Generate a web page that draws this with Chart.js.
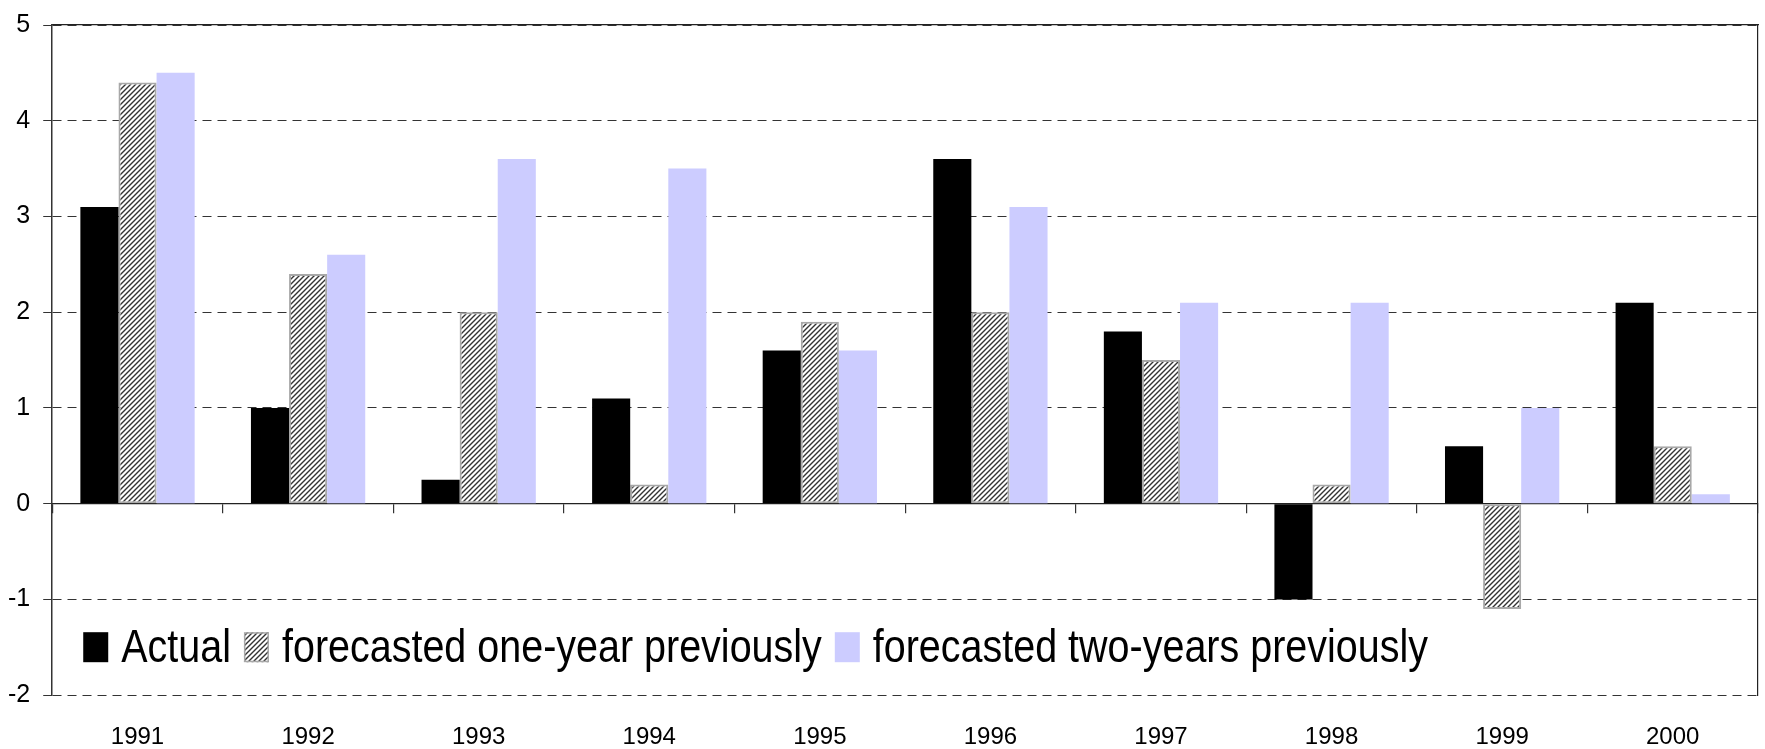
<!DOCTYPE html>
<html>
<head>
<meta charset="utf-8">
<script src="https://cdn.jsdelivr.net/npm/chart.js@4.4.1/dist/chart.umd.min.js"></script>
<style>
html,body{margin:0;padding:0;background:#ffffff;}
#wrap{width:1765px;height:749px;position:relative;}
</style>
</head>
<body>
<div id="wrap"><canvas id="c"></canvas></div>
<script>
// ---- data ----
const categories = ['1991','1992','1993','1994','1995','1996','1997','1998','1999','2000'];
const actual = [3.1, 1.0, 0.25, 1.1, 1.6, 3.6, 1.8, -1.0, 0.6, 2.1];
const forecastOneYear = [4.4, 2.4, 2.0, 0.2, 1.9, 2.0, 1.5, 0.2, -1.1, 0.6];
const forecastTwoYears = [4.5, 2.6, 3.6, 3.5, 1.6, 3.1, 2.1, 2.1, 1.0, 0.1];
const seriesNames = ['Actual', 'forecasted one-year previously', 'forecasted two-years previously'];
const yMin = -2, yMax = 5, yStep = 1;

const FONT = '"Liberation Sans", Arial, sans-serif';
Chart.defaults.font.family = FONT;

function makeHatch() {
  const s = 5;
  const c = document.createElement('canvas');
  c.width = s; c.height = s;
  const g = c.getContext('2d');
  g.fillStyle = '#ffffff';
  g.fillRect(0, 0, s, s);
  g.strokeStyle = '#333333';
  g.lineWidth = 1.4;
  g.beginPath();
  g.moveTo(0, s); g.lineTo(s, 0);
  g.moveTo(-1, 1); g.lineTo(1, -1);
  g.moveTo(s - 1, s + 1); g.lineTo(s + 1, s - 1);
  g.stroke();
  return g.createPattern(c, 'repeat');
}
const hatch = makeHatch();

const insideLegend = {
  id: 'insideLegend',
  afterDraw(chart) {
    const ctx = chart.ctx;
    const area = chart.chartArea;
    const baseline = area.bottom - 33;
    const boxW = 25, boxH = 30, gapBox = 13, gapItem = 13, sx = 0.84;
    let x = area.left + 31;
    ctx.save();
    ctx.font = '47px ' + FONT;
    ctx.textBaseline = 'alphabetic';
    ctx.fillStyle = '#000';
    chart.data.datasets.forEach(ds => {
      ctx.save();
      ctx.fillStyle = ds.backgroundColor;
      ctx.fillRect(x, baseline - boxH, boxW, boxH);
      if (ds.borderWidth) {
        ctx.strokeStyle = ds.borderColor;
        ctx.lineWidth = 1.5;
        ctx.strokeRect(x + 0.75, baseline - boxH + 0.75, boxW - 1.5, boxH - 1.5);
      }
      ctx.restore();
      x += boxW + gapBox;
      ctx.save();
      ctx.translate(x, baseline);
      ctx.scale(sx, 1);
      ctx.fillStyle = '#000';
      ctx.fillText(ds.label, 0, 0);
      ctx.restore();
      x += ctx.measureText(ds.label).width * sx + gapItem;
    });
    ctx.restore();
  }
};

new Chart(document.getElementById('c'), {
  type: 'bar',
  data: {
    labels: categories,
    datasets: [
      {label: seriesNames[0], data: actual, backgroundColor: '#000000', borderWidth: 0, xAxisID: 'x', yAxisID: 'y'},
      {label: seriesNames[1], data: forecastOneYear, backgroundColor: hatch, borderColor: '#a8a8a8', borderWidth: 2, borderSkipped: false, xAxisID: 'x', yAxisID: 'y'},
      {label: seriesNames[2], data: forecastTwoYears, backgroundColor: '#ccccff', borderWidth: 0, xAxisID: 'x', yAxisID: 'y'}
    ]
  },
  options: {
    responsive: true,
    maintainAspectRatio: false,
    animation: false,
    devicePixelRatio: 1,
    categoryPercentage: 0.67,
    barPercentage: 1.0,
    layout: {padding: {left: -5, top: 25, right: 7, bottom: -31}},
    plugins: {legend: {display: false}, tooltip: {enabled: false}},
    scales: {
      x: {
        type: 'category', position: 'bottom', offset: true,
        grid: {display: false, drawTicks: false},
        border: {display: false},
        ticks: {font: {size: 24}, color: '#000', padding: 28, maxRotation: 0}
      },
      xZero: {
        type: 'category', position: {y: 0}, offset: true,
        grid: {display: true, offset: true, drawOnChartArea: false, drawTicks: true, tickLength: 9, color: '#333', lineWidth: 1.2},
        border: {display: true, color: '#222', width: 1.2},
        ticks: {display: false}
      },
      xTop: {
        type: 'category', position: 'top', offset: true,
        grid: {display: false, drawTicks: false},
        border: {display: true, color: '#222', width: 1.2},
        ticks: {display: false}
      },
      y: {
        type: 'linear', position: 'left', min: yMin, max: yMax,
        ticks: {stepSize: yStep, font: {size: 25, lineHeight: 0.8}, color: '#000', padding: 13},
        grid: {color: '#333', lineWidth: 1, tickLength: 9, drawTicks: true},
        border: {display: true, color: '#333', width: 1.5, dash: [9, 6]}
      },
      yRight: {
        type: 'linear', position: 'right', min: yMin, max: yMax,
        ticks: {display: false},
        grid: {display: false, drawTicks: false},
        border: {display: true, color: '#222', width: 1.2}
      }
    }
  },
  plugins: [insideLegend]
});
</script>
</body>
</html>
